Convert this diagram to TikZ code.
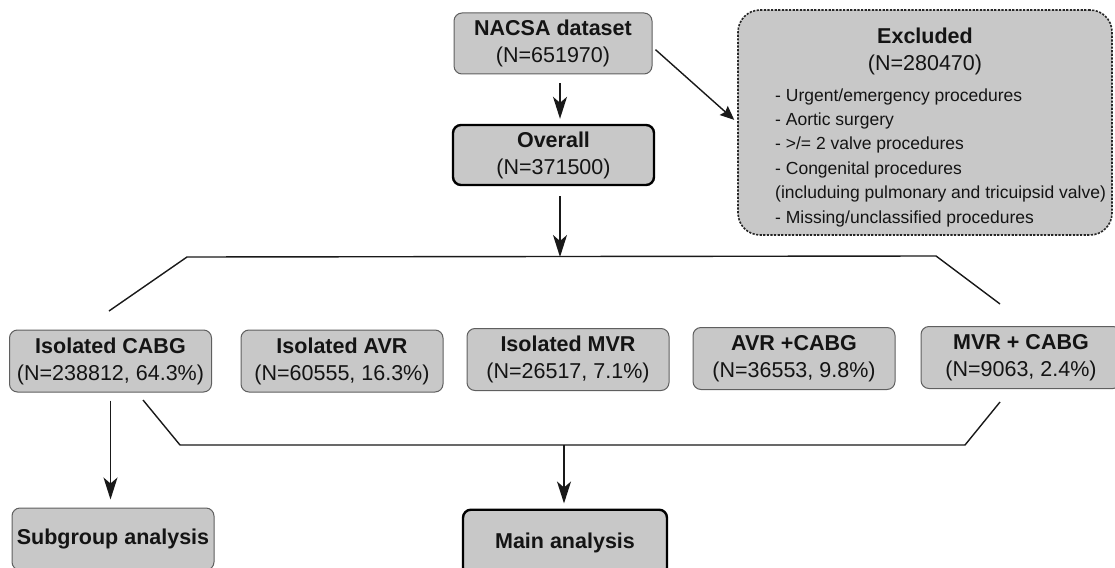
\documentclass[tikz,border=0pt]{standalone}
\usepackage{fontspec}
\setmainfont{Liberation Sans}
\usetikzlibrary{arrows.meta}
\definecolor{boxfill}{RGB}{200,200,200}
\definecolor{boxline}{RGB}{95,95,95}
\definecolor{inkc}{RGB}{20,20,20}
\begin{document}
\begin{tikzpicture}[x=1pt,y=-1pt,
  box/.style={draw=boxline, line width=1pt, fill=boxfill, rounded corners=8pt,
    minimum width=202pt, minimum height=62pt, inner sep=0pt, align=center,
    text=inkc, font=\fontsize{21.5}{27}\selectfont},
  thickbox/.style={box, draw=black, line width=2.4pt},
  exclbox/.style={draw=black!85, line width=1.6pt, dash pattern=on 2.2pt off 1.4pt,
    fill=boxfill, rounded corners=22pt, inner sep=0pt},
  conn/.style={draw=black!90, line width=1.4pt},
  arr/.style={conn, -{Stealth[length=22pt,width=14pt,inset=6pt]}},
  sarr/.style={conn, -{Stealth[length=14pt,width=12pt,inset=2pt]}},
  txt/.style={inner sep=0pt, text=inkc}
]
\useasboundingbox (0,0) rectangle (1115,567);
\clip (0,0) rectangle (1115,567);

% top boxes
\node[box, minimum width=198pt, minimum height=61pt] (nacsa) at (553,43.5)
  {\textbf{NACSA dataset}\\(N=651970)};
\node[thickbox, minimum width=201pt, minimum height=60pt] (overall) at (553.5,155)
  {\textbf{Overall}\\(N=371500)};

% excluded box
\node[exclbox, minimum width=374pt, minimum height=225pt] (excl) at (925,122.5) {};
\node[txt, anchor=north, align=center, font=\fontsize{21.5}{27}\selectfont] (excltitle) at (925,27.5)
  {\textbf{Excluded}\\(N=280470)};
\node[txt, anchor=north west, align=left, font=\fontsize{17.5}{24.4}\selectfont] (excllist) at (775,88.3)
  {- Urgent/emergency procedures\\
   - Aortic surgery\\
   - >/= 2 valve procedures\\
   - Congenital procedures\\
   (includuing pulmonary and tricuipsid valve)\\
   - Missing/unclassified procedures};

% row of groups
\node[box] (cabg) at (110.5,361) {\textbf{Isolated CABG}\\(N=238812, 64.3\%)};
\node[box] (avr)  at (342,361)   {\textbf{Isolated AVR}\\(N=60555, 16.3\%)};
\node[box] (mvr)  at (568,359.5) {\textbf{Isolated MVR}\\(N=26517, 7.1\%)};
\node[box] (avrc) at (794,358.5) {\textbf{AVR +CABG}\\(N=36553, 9.8\%)};
\node[box, minimum width=200pt] (mvrc) at (1021,357.5) {\textbf{MVR + CABG}\\(N=9063, 2.4\%)};

% bottom boxes
\node[box] (sub) at (113,539) {\textbf{Subgroup analysis}};
\node[thickbox, minimum width=204pt, minimum height=66pt] (main) at (565,542.7) {\textbf{Main analysis}};

% upper bracket
\coordinate (sL)  at (109,311);
\coordinate (sTL) at (187,257);
\coordinate (sJ)  at (560,257);
\coordinate (sTR) at (936,256);
\coordinate (sR)  at (1000,304);
\draw[conn] (sL) -- (sTL) -- (sTR) -- (sR);

% lower bracket
\coordinate (bL)  at (143,400);
\coordinate (bBL) at (180,445);
\coordinate (bJ)  at (564,445);
\coordinate (bBR) at (965,445);
\coordinate (bR)  at (1000,402);
\draw[conn] (bL) -- (bBL) -- (bBR) -- (bR);

% arrows
\draw[arr, shorten <=9pt, shorten >=5pt] ([xshift=7pt]nacsa.south) -- ([xshift=7pt]nacsa.south |- overall.north);
\draw[arr, shorten <=10pt] ([xshift=6.5pt]overall.south) -- (sJ);
\draw[sarr, shorten <=4pt, shorten >=4pt] ([yshift=-3.5pt]nacsa.east) -- (excl.west);
\draw[arr, shorten <=8pt, shorten >=8pt] (cabg.south) -- (cabg.south |- sub.north);
\draw[arr, shorten >=5pt] (bJ) -- (bJ |- main.north);
\end{tikzpicture}
\end{document}
